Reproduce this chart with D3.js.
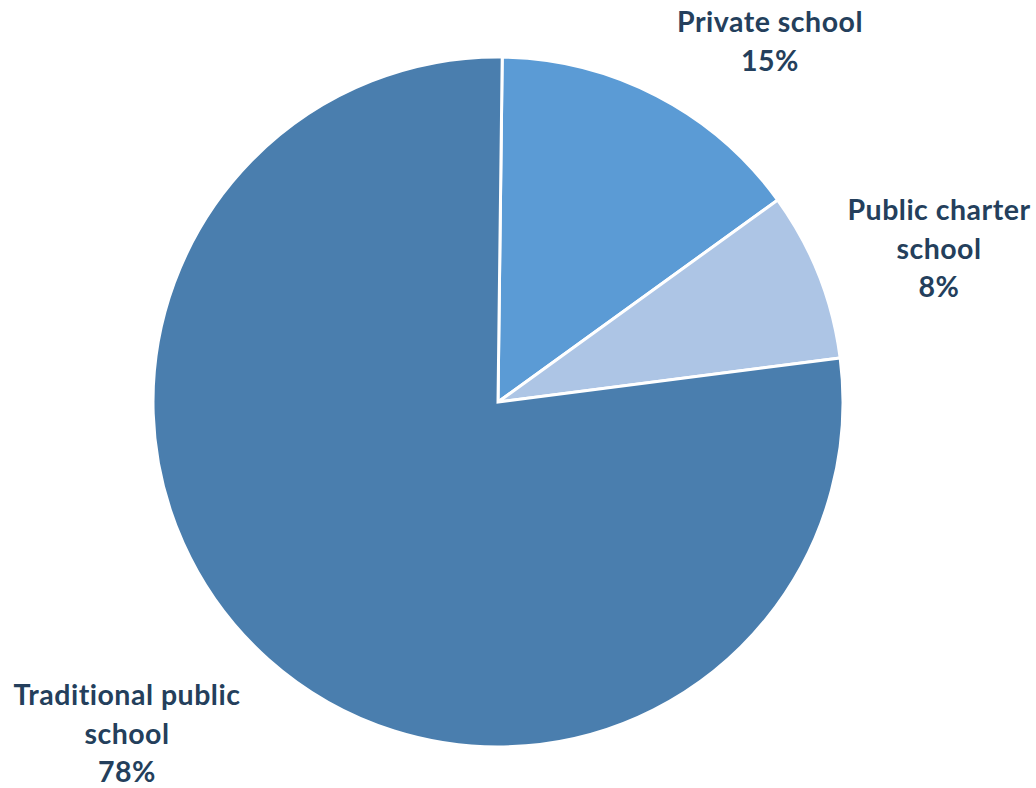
<!DOCTYPE html>
<html>
<head>
<meta charset="utf-8">
<script src="https://cdn.jsdelivr.net/npm/d3@7/dist/d3.min.js"></script>
<style>
  html, body { margin: 0; padding: 0; background: #ffffff; }
  svg { display: block; }
</style>
</head>
<body>
<svg id="chart" width="1036" height="788"></svg>
<script>
// School type shares (percent)
const categories = ["Private school", "Public charter school", "Traditional public school"];
const values = [15, 8, 78];
const labelLines = [
  ["Private school", "15%"],
  ["Public charter", "school", "8%"],
  ["Traditional public", "school", "78%"]
];
const colors = ["#5b9bd5", "#adc5e5", "#4a7eae"];

// Where each label block sits (center x, first baseline y)
const labelPos = [
  { x: 770, y: 32 },
  { x: 939, y: 220 },
  { x: 127, y: 705 }
];

const width = 1036, height = 788;
const cx = 498, cy = 402, radius = 345;
const startRad = 0.7 * Math.PI / 180;

const svg = d3.select("#chart");
const g = svg.append("g").attr("transform", `translate(${cx},${cy})`);

const pie = d3.pie()
  .sort(null)
  .value(d => d.value)
  .startAngle(startRad)
  .endAngle(startRad + 2 * Math.PI);

const data = categories.map((c, i) => ({ name: c, value: values[i], idx: i }));
const arcs = pie(data);
const arc = d3.arc().innerRadius(0).outerRadius(radius);

g.selectAll("path.slice")
  .data(arcs)
  .join("path")
  .attr("class", "slice")
  .attr("d", arc)
  .attr("fill", d => colors[d.data.idx])
  .attr("stroke", "#ffffff")
  .attr("stroke-width", 3)
  .attr("stroke-linejoin", "miter");

const lineH = 38.7;
const labels = svg.selectAll("text.lbl")
  .data(arcs)
  .join("text")
  .attr("class", "lbl")
  .attr("text-anchor", "middle")
  .attr("font-family", "Lato, 'Open Sans', sans-serif")
  .attr("font-weight", "bold")
  .attr("font-size", 28.5)
  .attr("letter-spacing", 0.5)
  .attr("fill", "#243f5c");

labels.each(function(d) {
  const i = d.data.idx;
  const t = d3.select(this);
  labelLines[i].forEach((ln, k) => {
    t.append("tspan")
      .attr("x", labelPos[i].x)
      .attr("y", labelPos[i].y + k * lineH)
      .text(ln);
  });
});
</script>
</body>
</html>
